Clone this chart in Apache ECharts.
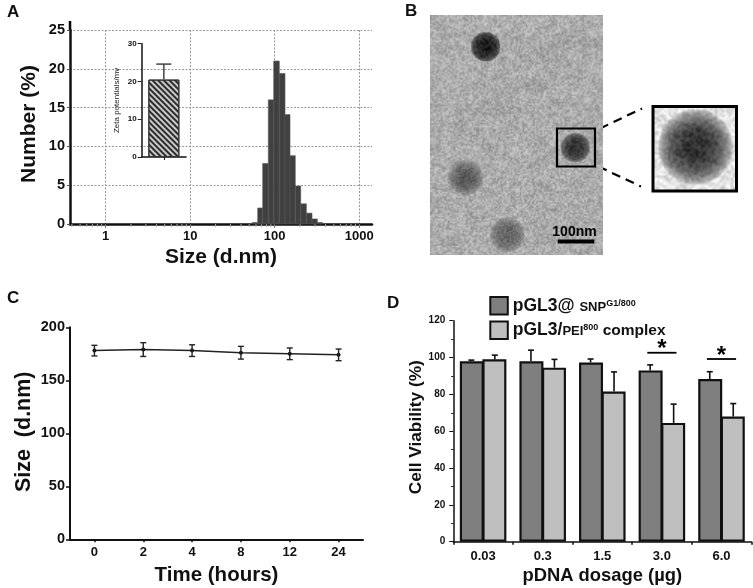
<!DOCTYPE html>
<html><head><meta charset="utf-8">
<style>html,body{margin:0;padding:0;background:#fff}#c{width:753px;height:588px}</style>
<script src="https://cdn.jsdelivr.net/npm/echarts@6/dist/echarts.min.js"></script>
</head><body><div id="c"></div>
<script>
// Panel A: size distribution
const binLow  = [54.3,62.9,72.1,84,97.3,113.3,132.3,151.7,175,203,236.7,276,319];
const binHigh = [62.9,72.1,84,97.3,113.3,132.3,151.7,175,203,236.7,276,319,366];
const binPct  = [0.2,2.06,7.8,16,21,19.4,14.1,8.8,4.9,2.6,1.4,0.65,0.2];
const sizeTicks = [1,10,100,1000];
const sizeMinorTicks = [0.4,0.5,0.6,0.7,0.8,0.9,2,3,4,5,6,7,8,9,20,30,40,50,60,70,80,90,200,300,400,500,600,700,800,900];
// Panel A inset: zeta potential
const zetaCats = [''];
const zetaVals = [20.5];
const zetaTop  = [24.6];
// Panel C: stability
const hours = ['0','2','4','8','12','24'];
const sizeVals = [178,179,178,176,175,174];
const sizeErr  = [5,6.5,5.5,6,5.5,5.5];
// Panel D: viability
const doses = ['0.03','0.3','1.5','3.0','6.0'];
const snpVals = [98,98,97.3,93,88.3];
const snpTop  = [98.6,104,99.2,96,92.3];
const peiVals = [99,94.5,81.5,64.5,68];
const peiTop  = [101.3,99,92.2,74.7,75];
const sigCats = [3,4];
const sigVals = [102.6,99.2];

const FONT = '"Liberation Sans", Arial, sans-serif';
const chart = echarts.init(document.getElementById('c'), null, {renderer:'canvas', width:753, height:588});

function hash(x,y){const s=Math.sin(x*12.9898+y*78.233)*43758.5453;return s-Math.floor(s);}
function grain(x,y,cell){
  const fx=x/cell, fy=y/cell, ix=Math.floor(fx), iy=Math.floor(fy), tx=fx-ix, ty=fy-iy;
  const a=hash(ix,iy),b=hash(ix+1,iy),c=hash(ix,iy+1),d=hash(ix+1,iy+1);
  return (a*(1-tx)+b*tx)*(1-ty)+(c*(1-tx)+d*tx)*ty-0.5;
}
function micrograph(w,h,base,amp,cell,blobs,smears){
  const cv=document.createElement('canvas');cv.width=w;cv.height=h;
  const ctx=cv.getContext('2d'),im=ctx.createImageData(w,h);
  for(let y=0;y<h;y++)for(let x=0;x<w;x++){
    let v=base+amp*grain(x,y,cell)+amp*.35*grain(x+90,y+40,cell*3);
    for(const s of smears){const d=Math.hypot((x-s[0])/s[2],(y-s[1])/s[3]);if(d<1)v-=s[4]*(1-d);}
    for(const b of blobs){
      const d=Math.hypot(x-b[0],y-b[1])/b[2];
      const k=d>=1?0:Math.pow(1-d*d,b[4]);
      v=v*(1-k)+(b[3]+amp*.9*grain(x+7,y+3,cell))*k;
    }
    v=Math.max(0,Math.min(255,v));
    const i=(y*w+x)*4;im.data[i]=im.data[i+1]=im.data[i+2]=v;im.data[i+3]=255;
  }
  ctx.putImageData(im,0,0);return cv;
}
const tem=micrograph(173,240,172,56,1.5,
  [[55,31,15,26,0.35],[145,132,15,48,0.4],[35,162,18,88,0.6],[77,219,18,98,0.6]],
  [[60,95,28,10,14],[90,70,40,12,12],[110,40,30,10,10],[30,105,10,14,16],[140,25,28,12,8]]);
const temZoom=micrograph(80,80,226,60,2.2,[[40,38,36,44,0.6]],[]);

const line=(x1,y1,x2,y2,w,dash)=>({type:'line',silent:true,shape:{x1,y1,x2,y2},style:{stroke:'#000',lineWidth:w,lineDash:dash||null}});
const letter=(t,x,y)=>({type:'text',silent:true,style:{text:t,x,y,fill:'#111',font:'bold 17px '+FONT,textVerticalAlign:'middle'}});

function errorSeries(name,xi,yi,data,cap,color,lw,offset){
  return {type:'custom',name,xAxisIndex:xi,yAxisIndex:yi,z:5,silent:true,data,
    encode:{x:0,y:[1,2]},
    renderItem(p,api){
      const cx=api.coord([api.value(0),api.value(1)]);
      const top=api.coord([api.value(0),api.value(2)]);
      const off=offset?offset*api.size([1,0])[0]:0;
      const x=cx[0]+off,c=cap/2,st={stroke:color,lineWidth:lw,fill:null};
      return {type:'group',children:[
        {type:'line',shape:{x1:x,y1:cx[1],x2:x,y2:top[1]},style:st},
        {type:'line',shape:{x1:x-c,y1:top[1],x2:x+c,y2:top[1]},style:st}
      ]};
    }};
}
const axisLine=w=>({show:true,onZero:false,lineStyle:{color:'#111',width:w}});
const label=(size)=>({color:'#111',fontFamily:FONT,fontWeight:'bold',fontSize:size});
const nameSt=(size,padding)=>({color:'#111',fontFamily:FONT,fontWeight:'bold',fontSize:size,padding:padding||0});

const option={
  animation:false,backgroundColor:'#fff',
  grid:[
    {left:70,top:30,width:302,height:194,outerBoundsMode:'none'},
    {left:141.7,top:43.7,width:44.3,height:113.3,outerBoundsMode:'none'},
    {left:70,top:327.3,width:293,height:212,outerBoundsMode:'none'},
    {left:453.3,top:320.7,width:298,height:221,outerBoundsMode:'none'}
  ],
  xAxis:[
    {type:'log',gridIndex:0,min:0.38,max:1413,name:'Size (d.nm)',nameLocation:'middle',nameGap:23,nameTextStyle:nameSt(21),
     axisLine:axisLine(2.5),axisTick:{show:true,length:4,customValues:sizeTicks,lineStyle:{color:'#777',width:1}},
     axisLabel:{...label(13),margin:6,customValues:sizeTicks,formatter:v=>String(Math.round(v))},
     splitLine:{show:true,customValues:sizeTicks,lineStyle:{color:'#999',type:[2,1.5],width:1}},minorTick:{show:false}},
    {type:'category',gridIndex:1,data:zetaCats,axisLine:axisLine(1.5),axisTick:{show:true,alignWithLabel:true,length:3,lineStyle:{color:'#222',width:1}},axisLabel:{show:false}},
    {type:'category',gridIndex:2,data:hours,name:'Time (hours)',nameLocation:'middle',nameGap:25.5,nameTextStyle:nameSt(20.5),
     axisLine:axisLine(2),axisTick:{show:true,alignWithLabel:true,length:3,lineStyle:{color:'#111',width:1.5}},axisLabel:{...label(13),margin:7}},
    {type:'category',gridIndex:3,data:doses,name:'pDNA dosage (µg)',nameLocation:'middle',nameGap:25,nameTextStyle:nameSt(18.4),
     axisLine:axisLine(1.5),axisTick:{show:true,length:3,lineStyle:{color:'#111',width:1.5}},axisLabel:{...label(13),margin:8}}
  ],
  yAxis:[
    {type:'value',gridIndex:0,min:0,max:25,interval:5,name:'Number (%)',nameLocation:'middle',nameGap:30,nameTextStyle:nameSt(21,[0,0,0,6]),
     axisLine:axisLine(2.5),axisTick:{show:true,length:3,lineStyle:{color:'#555',width:1}},axisLabel:{...label(14.5),margin:5},
     splitLine:{show:true,lineStyle:{color:'#999',type:[2,1.5],width:1}}},
    {type:'value',gridIndex:1,min:0,max:30,interval:10,name:'Zeta potentials/mv',nameLocation:'middle',nameGap:21,nameTextStyle:{color:'#222',fontFamily:FONT,fontSize:8},
     axisLine:axisLine(1.5),axisTick:{show:true,length:4,lineStyle:{color:'#222',width:1}},axisLabel:{...label(8),margin:5},splitLine:{show:false}},
    {type:'value',gridIndex:2,min:0,max:200,interval:50,name:'Size  (d.nm)',nameLocation:'middle',nameGap:35,nameTextStyle:nameSt(21.5,[0,0,0,3]),
     axisLine:axisLine(2),axisTick:{show:true,length:4,lineStyle:{color:'#111',width:1.5}},axisLabel:{...label(14.5),margin:5},splitLine:{show:false}},
    {type:'value',gridIndex:3,min:0,max:120,interval:20,name:'Cell Viability (%)',nameLocation:'middle',nameGap:27,nameTextStyle:nameSt(17.3,[0,0,0,8]),
     axisLine:axisLine(1.5),axisTick:{show:true,length:4,lineStyle:{color:'#111',width:1}},minorTick:{show:true,splitNumber:2,length:2,lineStyle:{color:'#111',width:1}},axisLabel:{...label(10),margin:8},splitLine:{show:false}}
  ],
  legend:{left:489.3,top:296,padding:0,orient:'vertical',itemGap:5,itemWidth:17.5,itemHeight:17.5,icon:'rect',selectedMode:false,
    data:['pGL3@ SNP','pGL3/PEI'],
    formatter:n=>n==='pGL3@ SNP'?'{a|pGL3@ }{b|SNP}{c|G1/800}':'{a|pGL3/}{b|PEI}{c|800}{b2| complex}',
    textStyle:{rich:{
      a:{fontFamily:FONT,fontWeight:'bold',fontSize:17.5,color:'#111'},
      b:{fontFamily:FONT,fontWeight:'bold',fontSize:13,color:'#111',verticalAlign:'bottom',padding:[0,0,1,0]},
      b2:{fontFamily:FONT,fontWeight:'bold',fontSize:15.5,color:'#111'},
      c:{fontFamily:FONT,fontWeight:'bold',fontSize:9,color:'#111',padding:[0,0,5,0]}
    }}},
  series:[
    {type:'custom',name:'histTicks',xAxisIndex:0,yAxisIndex:0,z:1,silent:true,
     data:sizeMinorTicks.map(v=>[v,0]),encode:{x:0,y:1},
     renderItem(p,api){
       const a=api.coord([api.value(0),0]);
       return {type:'line',shape:{x1:a[0],y1:a[1],x2:a[0],y2:a[1]+3},style:{stroke:'#aaa',lineWidth:1}};
     }},
    {type:'custom',name:'hist',xAxisIndex:0,yAxisIndex:0,z:3,silent:true,
     data:binPct.map((v,i)=>[binLow[i],binHigh[i],v]),encode:{x:[0,1],y:2},
     renderItem(p,api){
       const a=api.coord([api.value(0),0]),b=api.coord([api.value(1),api.value(2)]);
       return {type:'rect',shape:{x:a[0],y:b[1],width:b[0]-a[0],height:a[1]-b[1]},style:{fill:'#404040',stroke:'#555',lineWidth:.6}};
     }},
    {type:'bar',name:'zeta',xAxisIndex:1,yAxisIndex:1,data:zetaVals,barWidth:31,z:3,silent:true,
     itemStyle:{color:'#c8c8c8',borderColor:'#333',borderWidth:1,decal:{symbol:'rect',symbolSize:1,dashArrayX:[1,0],dashArrayY:[2,2],rotation:Math.PI/4,color:'#2c2c2c'}}},
    errorSeries('zetaErr',1,1,zetaVals.map((v,i)=>[i,v,zetaTop[i]]),15,'#444',1.5),
    {type:'line',name:'size',xAxisIndex:2,yAxisIndex:2,data:sizeVals,symbol:'circle',symbolSize:4,z:4,silent:true,
     lineStyle:{color:'#222',width:1.5},itemStyle:{color:'#111'}},
    {type:'custom',name:'sizeErr',xAxisIndex:2,yAxisIndex:2,z:5,silent:true,
     data:sizeVals.map((v,i)=>[i,v-sizeErr[i],v+sizeErr[i]]),encode:{x:0,y:[1,2]},
     renderItem(p,api){
       const lo=api.coord([api.value(0),api.value(1)]),hi=api.coord([api.value(0),api.value(2)]);
       const st={stroke:'#222',lineWidth:1.4},c=3;
       return {type:'group',children:[
         {type:'line',shape:{x1:lo[0],y1:lo[1],x2:hi[0],y2:hi[1]},style:st},
         {type:'line',shape:{x1:lo[0]-c,y1:lo[1],x2:lo[0]+c,y2:lo[1]},style:st},
         {type:'line',shape:{x1:hi[0]-c,y1:hi[1],x2:hi[0]+c,y2:hi[1]},style:st}]};
     }},
    {type:'bar',name:'pGL3@ SNP',xAxisIndex:3,yAxisIndex:3,data:snpVals,barWidth:24,barGap:'-6%',silent:true,z:3,
     itemStyle:{color:'#7f7f7f',borderColor:'#111',borderWidth:2.2}},
    {type:'bar',name:'pGL3/PEI',xAxisIndex:3,yAxisIndex:3,data:peiVals,barWidth:24,barGap:'-6%',silent:true,z:3,
     itemStyle:{color:'#bfbfbf',borderColor:'#111',borderWidth:2.2}},
    errorSeries('snpErr',3,3,snpVals.map((v,i)=>[i,v,snpTop[i]]),6,'#111',1.6,-0.197),
    errorSeries('peiErr',3,3,peiVals.map((v,i)=>[i,v,peiTop[i]]),6,'#111',1.6,0.197),
    {type:'custom',name:'sig',xAxisIndex:3,yAxisIndex:3,z:6,silent:true,
     data:sigCats.map((c,i)=>[c,sigVals[i]]),encode:{x:0,y:1},
     renderItem(p,api){
       const q=api.coord([api.value(0),api.value(1)]),hw=api.size([1,0])[0]*0.245;
       return {type:'group',children:[
         {type:'line',shape:{x1:q[0]-hw,y1:q[1],x2:q[0]+hw,y2:q[1]},style:{stroke:'#000',lineWidth:1.8}},
         {type:'text',style:{text:'*',x:q[0],y:q[1]-3,fill:'#000',font:'bold 24px '+FONT,textAlign:'center',textVerticalAlign:'middle'}}
       ]};
     }}
  ],
  graphic:{elements:[
    line(70,21,70,30,2.5),
    letter('A',7,12),letter('B',405,11),letter('C',7,298),letter('D',387,303),
    {type:'image',silent:true,z:1,style:{image:tem,x:430.3,y:15.3,width:172.4,height:239.7}},
    {type:'rect',silent:true,z:2,shape:{x:557,y:128.5,width:38,height:38},style:{fill:null,stroke:'#000',lineWidth:2.2}},
    {type:'image',silent:true,z:1,style:{image:temZoom,x:653,y:106,width:84,height:85}},
    {type:'rect',silent:true,z:2,shape:{x:653,y:106.5,width:83.5,height:84.5},style:{fill:null,stroke:'#000',lineWidth:3}},
    line(600,128.5,642,108.5,2.2,[9,6]),
    line(598.5,166.5,641,186.5,2.2,[9,6]),
    {type:'rect',silent:true,z:2,shape:{x:557.7,y:239.5,width:36.6,height:4},style:{fill:'#000'}},
    {type:'text',silent:true,z:2,style:{text:'100nm',x:574.5,y:232.5,fill:'#000',font:'bold 14px '+FONT,textAlign:'center',textVerticalAlign:'middle'}}
  ]}
};
chart.setOption(option);
</script></body></html>
